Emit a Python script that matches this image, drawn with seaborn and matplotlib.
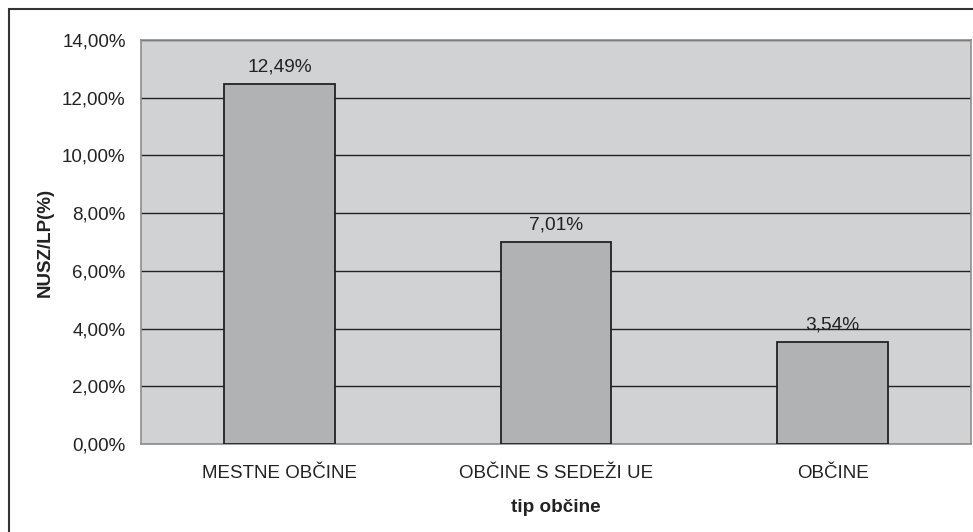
import matplotlib
matplotlib.use("Agg")
import matplotlib.pyplot as plt
from matplotlib.patches import Rectangle
from matplotlib.ticker import FuncFormatter, MultipleLocator
import pandas as pd
import seaborn as sns

# Share of NUSZ in LP by municipality type (percent)
categories = ["MESTNE OBČINE", "OBČINE S SEDEŽI UE", "OBČINE"]
values = [12.49, 7.01, 3.54]

df = pd.DataFrame({"tip": categories, "delez": values})

sns.set_theme(style="white")
plt.rcParams["font.family"] = ["Liberation Sans", "DejaVu Sans"]

fig = plt.figure(figsize=(9.73, 5.32), dpi=100)
ax = fig.add_axes([141 / 973, 1 - 444 / 532, 830 / 973, 404 / 532])
ax.set_facecolor("#d1d2d4")

sns.barplot(data=df, x="tip", y="delez", ax=ax, color="#b1b2b4",
            saturation=1, width=0.40, edgecolor="#222222", linewidth=1.3,
            zorder=3)

ax.set_ylim(0, 14)
ax.set_xlim(-0.5, 2.5)
ax.yaxis.set_major_locator(MultipleLocator(2))
ax.yaxis.set_major_formatter(FuncFormatter(lambda v, p: f"{v:.2f}".replace(".", ",") + "%"))
ax.grid(axis="y", color="#222222", linewidth=1.0, zorder=1)
ax.set_axisbelow(True)

for i, v in enumerate(values):
    ax.text(i, v + 0.58, f"{v:.2f}".replace(".", ",") + "%", ha="center",
            va="center", fontsize=13.8, color="#222222", zorder=4)

ax.tick_params(axis="y", length=0, pad=11, labelsize=13.5, labelcolor="#222222")
ax.tick_params(axis="x", length=0, pad=15, labelsize=13.5, labelcolor="#222222")
ax.set_xlabel("tip občine", fontsize=13.6, fontweight="bold", color="#222222", labelpad=12)
ax.set_ylabel("NUSZ/LP(%)", fontsize=13.5, fontweight="bold", color="#222222", labelpad=6)

for s in ax.spines.values():
    s.set_color("#8e8e8e")
    s.set_linewidth(1.2)

# outer frame of the chart
fig.add_artist(Rectangle((9 / 973, -0.05), 1.1, 1 - 9 / 532 + 0.05,
                         transform=fig.transFigure, fill=False,
                         edgecolor="#333333", linewidth=1.5))

fig.savefig("out.png", dpi=100)
